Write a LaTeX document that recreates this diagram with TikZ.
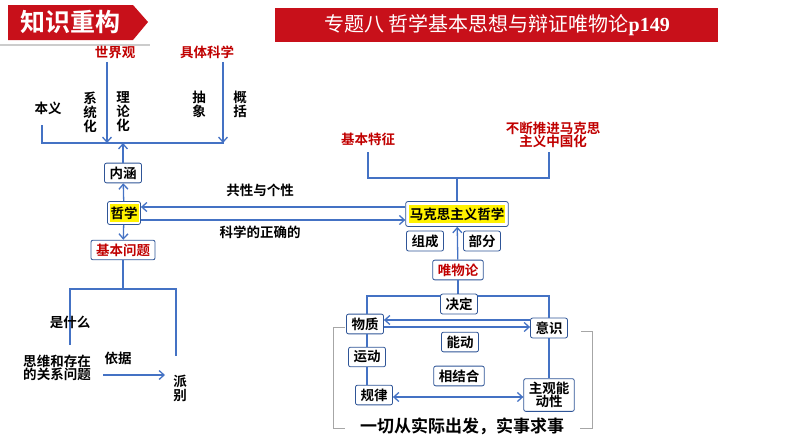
\documentclass[tikz,border=0pt]{standalone}
\usepackage{fontspec}
\setmainfont{Liberation Serif}
\newfontfamily\cjk{Noto Sans CJK SC}[BoldFont={Noto Sans CJK SC Bold}]
\usetikzlibrary{arrows.meta}
\definecolor{lineblue}{RGB}{68,114,196}
\definecolor{boxblue}{RGB}{47,85,151}
\definecolor{darkred}{RGB}{192,0,0}
\definecolor{titlered}{RGB}{200,16,26}
\tikzset{
  box/.style={draw=boxblue, line width=0.8, rounded corners=2, fill=white, inner xsep=5, inner ysep=3.5, font=\cjk\bfseries\fontsize{13.5}{15}\selectfont},
  txt/.style={font=\cjk\bfseries\fontsize{13.5}{15}\selectfont, align=center},
  link/.style={draw=lineblue, line width=1.3},
  arr/.style={link, -{Straight Barb[length=5, width=9]}},
  brace/.style={draw=gray!70, line width=0.6}
}
\begin{document}
\begin{tikzpicture}[x=1pt, y=-1pt]
\useasboundingbox (0,0) rectangle (794,447);
% 标题
\fill[titlered] (8,5) -- (133,5) -- (148,22) -- (133,40) -- (8,40) -- cycle;
\node[font=\cjk\bfseries\fontsize{25}{27}\selectfont, text=white] (head) at (70,22) {知识重构};
\fill[gray!40] (0,44) -- (150,44) -- (150,46) -- (0,46) -- cycle;
\fill[titlered] (275,8) rectangle (718,42);
\node[text=white, font=\fontsize{20}{22}\selectfont] (title) at (497,25) {{\cjk 专题八 哲学基本思想与辩证唯物论}\textbf{p149}};
% 哲学
\node[txt, text=darkred] (sjg) at (115,52) {世界观};
\node[txt, text=darkred] (jtkx) at (207,52) {具体科学};
\node[txt] (by) at (48,108) {本义};
\node[txt] (xth) at (90,112) {系\\[-1pt]统\\[-1pt]化};
\node[txt] (llh) at (123,112) {理\\[-1pt]论\\[-1pt]化};
\node[txt] (cx) at (199,104) {抽\\[-1pt]象};
\node[txt] (gk) at (240,104) {概\\[-1pt]括};
\node[box] (nh) at (123,173) {内涵};
\node[box, inner sep=2] (zx) at (124,213) {\colorbox{yellow}{\kern-2pt 哲学\kern-2pt}};
\node[box, text=darkred] (jbwt) at (123,250) {基本问题};
\coordinate (top) at (123,143);
\draw[link] (42,125) -- (42,143) -- (224,143);
\draw[arr] (sjg.south -| 107,0) -- (107,143);
\draw[arr] (jtkx.south -| 223,0) -- (223,143);
\draw[arr] (nh) -- (top);
\draw[arr] (zx) -- (nh);
\draw[arr] (zx) -- (jbwt);
\draw[link] (jbwt) -- (123,289);
\draw[link] (70,345) -- (70,289) -- (176,289) -- (176,356);
\node[txt] (sm) at (70,322) {是什么};
\node[txt] (gx) at (57,368) {思维和存在\\[-2pt]的关系问题};
\node[txt] (yj) at (118,358) {依据};
\node[txt] (pb) at (180,388) {派\\[-1pt]别};
\draw[arr] (103,375) -- (165,375);
% 马克思主义哲学
\node[box, inner sep=3] (mks) at (457,214) {\colorbox{yellow}{\kern-2pt 马克思主义哲学\kern-2pt}};
\draw[arr] (mks.west |- 0,207) -- (zx.east |- 0,207);
\draw[arr] (zx.east |- 0,220) -- (mks.west |- 0,220);
\node[txt] (gxy) at (260,190) {共性与个性};
\node[txt] (kx) at (260,232) {科学的正确的};
\node[txt, text=darkred] (jbtz) at (368,139) {基本特征};
\node[txt, text=darkred] (zgh) at (553,135) {不断推进马克思\\[-2pt]主义中国化};
\draw[link] (368,152) -- (368,178) -- (549,178) -- (549,152);
\draw[link] (457,178) -- (mks);
\node[box] (zc) at (425,241) {组成};
\node[box] (bf) at (482,241) {部分};
\node[box, text=darkred] (wwl) at (458,270) {唯物论};
\draw[arr] (wwl) -- (mks);
\node[box] (wz) at (365,324) {物质};
\node[box] (ys) at (549,328) {意识};
\draw[link] (wwl) -- (458,296);
\draw[link] (wz.north -| 367,0) -- (367,296) -- (549,296) -- (ys);
\node[box] (jd) at (459,304) {决定};
\draw[arr] (ys.west |- 0,320) -- (wz.east |- 0,320);
\draw[arr] (wz.east |- 0,327) -- (ys.west |- 0,327);
\node[box] (nd) at (460,342) {能动};
\node[box] (xjh) at (459,376) {相结合};
\node[box] (yd) at (367,357) {运动};
\node[box] (gl) at (374,395) {规律};
\node[box, align=center] (zgnd) at (549,395) {主观能\\[-2pt]动性};
\draw[link] (wz.south -| 367,0) -- (yd);
\draw[link] (yd) -- (gl.north -| 367,0);
\draw[link] (ys) -- (zgnd);
\draw[link, {Straight Barb[length=5, width=9]}-{Straight Barb[length=5, width=9]}] (gl.east |- 0,397) -- (zgnd.west |- 0,397);
\draw[brace] (345,327) -- (333,327) -- (333,428) -- (345,428);
\draw[brace] (581,331) -- (592,331) -- (592,428) -- (580,428);
\node[font=\cjk\bfseries\fontsize{17}{19}\selectfont] (sq) at (462,426) {一切从实际出发，实事求事};
\end{tikzpicture}
\end{document}
